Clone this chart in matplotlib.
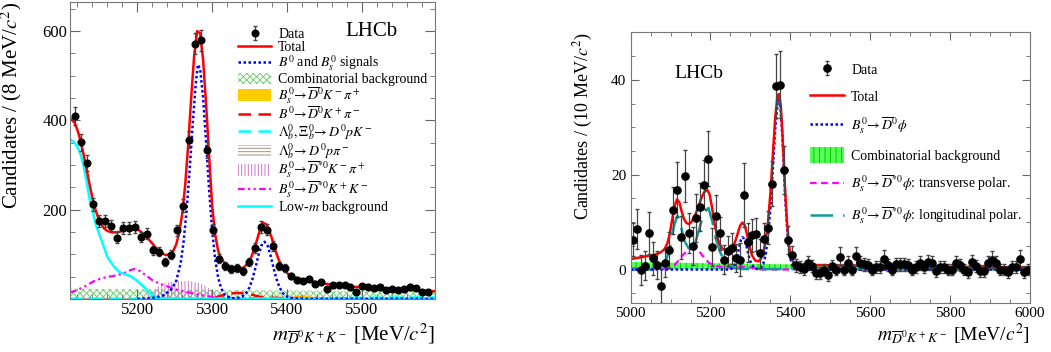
import matplotlib
matplotlib.use('Agg')
import matplotlib.pyplot as plt
from matplotlib.ticker import MultipleLocator, FuncFormatter
import numpy as np

plt.rcParams['font.family'] = ['Liberation Serif', 'DejaVu Serif']
plt.rcParams['mathtext.fontset'] = 'stix'
plt.rcParams['hatch.linewidth'] = 0.7

# ---------------- left panel: 8 MeV bins ----------------
mass_l = 5117 + 8 * np.arange(60)
counts_l = [410, 351, 304, 212, 174, 174, 164, 137, 159, 159,
            161, 139, 146, 109, 106, 83, 99, 154, 209, 357,
            572, 579, 334, 155, 90, 73, 67, 69, 62, 82,
            114, 161, 155, 118, 73, 69, 51, 43, 41, 45,
            34, 37, 22, 30, 30, 31, 27, 16, 28, 27,
            24, 26, 20, 22, 20, 21, 27, 24, 16, 16]
err_l = np.sqrt(counts_l)  # poisson

tot_x = [5110, 5116, 5120, 5124, 5128, 5132, 5136, 5140, 5144, 5148, 5152, 5156, 5160, 5166,
         5172, 5178, 5184, 5190, 5196, 5202, 5208, 5214, 5220, 5226, 5232, 5238, 5244, 5248,
         5252, 5256, 5260, 5264, 5268, 5272, 5276, 5280, 5284, 5288, 5292, 5296, 5300, 5304,
         5308, 5312, 5318, 5324, 5330, 5336, 5342, 5348, 5352, 5356, 5360, 5364, 5368, 5372,
         5376, 5380, 5384, 5388, 5392, 5396, 5402, 5410, 5420, 5430, 5440, 5455, 5470, 5490,
         5510, 5530, 5550, 5575, 5600]
tot_y = [405, 395, 378, 355, 325, 292, 258, 226, 200, 180, 166, 157, 152, 149,
         149, 151, 155, 158, 158, 154, 146, 136, 124, 112, 103, 98, 100, 107,
         122, 148, 190, 255, 345, 450, 545, 600, 595, 535, 435, 320, 210, 145,
         108, 90, 78, 73, 70, 68, 70, 80, 92, 110, 132, 155, 170, 168,
         155, 135, 112, 92, 77, 65, 55, 48, 44, 41, 37, 33, 30, 27,
         25, 23, 21, 19, 17]

sig_x = [5200, 5215, 5225, 5235, 5245, 5252, 5258, 5262, 5266, 5270, 5274, 5278, 5281, 5284,
         5288, 5292, 5296, 5300, 5304, 5308, 5312, 5316, 5320, 5326, 5334, 5340, 5346, 5350,
         5354, 5358, 5362, 5366, 5370, 5374, 5378, 5382, 5386, 5390, 5394, 5398, 5404, 5412,
         5420, 5600]
sig_y = [0, 1, 3, 8, 20, 40, 80, 130, 200, 290, 390, 480, 525, 515,
         450, 350, 245, 155, 90, 48, 24, 11, 5, 1.5, 2, 5, 14, 26,
         45, 70, 98, 120, 128, 120, 98, 70, 45, 26, 14, 7, 2, 0.5,
         0, 0]

comb_x = [5110, 5200, 5300, 5400, 5500, 5600]
comb_y = [23, 21.5, 20, 18.7, 17.5, 16.3]

dkpi_x = [5396, 5404, 5412, 5420, 5428, 5436, 5444]
dkpi_y = [0, 3, 8, 10, 8, 3, 0]

b0_x = [5300, 5310, 5320, 5330, 5340, 5350, 5360, 5370, 5390, 5450, 5600]
b0_y = [0, 6, 11, 13, 13, 11, 6, 3, 2, 1.5, 1]

lbk_x = [5110, 5400, 5450, 5500, 5550, 5600]
lbk_y = [0, 0.5, 1.5, 2.5, 3, 3]

lbpi_x = [5110, 5150, 5200, 5250, 5300]
lbpi_y = [2, 2, 1.5, 1, 0]

dstkpi_x = [5205, 5212, 5220, 5228, 5236, 5244, 5256, 5268, 5280, 5290, 5300, 5308, 5316, 5324]
dstkpi_y = [0, 6, 18, 28, 35, 38, 40, 40, 37, 30, 20, 10, 3, 0]

dstkk_x = [5110, 5120, 5130, 5140, 5150, 5160, 5170, 5180, 5190, 5196, 5204, 5212, 5220, 5230,
           5240, 5250, 5260, 5270, 5280, 5290, 5300, 5320, 5340, 5360, 5600]
dstkk_y = [14, 20, 28, 38, 45, 49, 52, 56, 64, 67, 62, 52, 42, 34,
           28, 22, 17, 14, 10, 7, 4, 2, 1, 0.5, 0]

lowm_x = [5110, 5116, 5120, 5124, 5128, 5132, 5136, 5140, 5144, 5148, 5152, 5160, 5168, 5176,
          5184, 5192, 5200, 5208, 5216, 5224, 5232, 5240, 5600]
lowm_y = [358, 350, 340, 325, 300, 265, 225, 200, 170, 150, 132, 94, 74, 60,
          55, 50, 40, 28, 14, 4, 1, 0, 0]

# ---------------- right panel: 10 MeV bins ----------------
mass_r = 5005 + 10 * np.arange(100)
counts_r = [6.3, 8.6, -0.1, 0.8, 7.7, 2.4, 0.9, -3.4, 1.4, 4.1,
            12.5, 16.8, 6.8, 19.8, 7.7, 5.0, 10.9, 13.2, 17.9, 23.4,
            4.7, 11.2, 7.6, 2.1, 3.9, 4.5, 2.4, 2.1, 15.7, 5.7,
            7.2, 7.4, 3.4, 6.5, 8.8, 18.1, 38.7, 39.0, 21.0, 6.2,
            3.0, 0.9, 0.6, 0.1, 1.3, 0.7, -0.7, -0.7, 0.0, -1.2,
            0.7, 0.0, 2.7, 0.0, 1.3, 0.0, 2.8, 1.4, 1.1, 0.9,
            0.0, 0.6, 0.6, 2.3, 0.9, 0.0, 1.1, 1.1, 1.1, 0.9,
            0.0, 0.6, 1.4, 0.6, 1.5, 1.3, -0.3, 0.6, 0.6, 0.0,
            0.0, 1.3, 0.9, 0.0, -0.5, 1.5, 0.8, -0.3, -0.3, 1.3,
            2.1, 1.3, 0.0, 0.0, -0.5, 0.6, 0.6, 2.3, -0.5, 0.0]
err_r = [3.5, 4.2, 3.2, 3.0, 4.5, 3.5, 3.0, 3.6, 3.0, 3.8,
         5.0, 5.8, 4.5, 5.5, 4.3, 4.0, 5.0, 5.0, 5.2, 5.8,
         4.0, 4.5, 3.5, 3.0, 3.2, 3.3, 3.0, 3.5, 6.8, 4.2,
         3.5, 3.5, 3.0, 3.3, 3.5, 4.8, 6.8, 7.0, 5.0, 3.0,
         2.0, 1.4, 1.3, 1.2, 1.5, 1.3, 1.2, 1.2, 1.2, 1.2,
         1.3, 1.2, 2.0, 1.2, 1.5, 1.2, 2.0, 1.5, 1.4, 1.3,
         1.2, 1.3, 1.3, 1.9, 1.3, 1.2, 1.4, 1.4, 1.4, 1.3,
         1.2, 1.3, 1.5, 1.3, 1.5, 1.5, 1.2, 1.3, 1.3, 1.2,
         1.2, 1.5, 1.3, 1.2, 1.2, 1.5, 1.3, 1.2, 1.2, 1.5,
         1.8, 1.5, 1.2, 1.2, 1.2, 1.3, 1.3, 1.9, 1.2, 1.2]

rtot_x = [5000, 5020, 5040, 5060, 5075, 5085, 5092, 5098, 5104, 5110, 5116, 5122, 5128, 5134,
          5140, 5146, 5152, 5160, 5168, 5176, 5184, 5192, 5198, 5204, 5210, 5216, 5222, 5230,
          5240, 5250, 5258, 5266, 5274, 5280, 5286, 5292, 5298, 5304, 5312, 5320, 5326, 5332,
          5338, 5344, 5350, 5356, 5362, 5368, 5372, 5376, 5380, 5384, 5388, 5392, 5396, 5400,
          5406, 5414, 5430, 5500, 5600, 5700, 5800, 5900, 6000]
rtot_y = [2.2, 2.5, 2.8, 3.1, 3.6, 4.3, 5.5, 7.5, 10.5, 13.3, 14.8, 14.2, 12.2, 10.6,
          9.8, 9.6, 10.0, 11.2, 12.8, 14.8, 16.3, 16.8, 15.8, 13.0, 9.8, 7.2, 5.5, 4.4,
          4.0, 4.2, 5.0, 7.0, 9.2, 9.9, 9.3, 7.2, 4.8, 3.0, 1.9, 1.7, 2.2, 3.5,
          6.0, 10.0, 16.0, 24.0, 32.0, 36.8, 37.0, 34.5, 29.0, 22.0, 15.0, 9.5, 5.5, 3.2,
          1.8, 1.2, 1.0, 0.9, 0.8, 0.7, 0.6, 0.5, 0.45]

rsig_x = [5000, 5250, 5258, 5264, 5270, 5276, 5280, 5284, 5290, 5296, 5302, 5310, 5318, 5326,
          5332, 5338, 5344, 5350, 5356, 5362, 5368, 5372, 5376, 5380, 5384, 5388, 5392, 5396,
          5400, 5406, 5414, 5422, 6000]
rsig_y = [0, 0, 0.5, 1.8, 4.0, 6.2, 6.8, 6.5, 5.0, 2.8, 1.2, 0.3, 0.1, 0.4,
          1.2, 3.0, 7.0, 13.0, 21.0, 29.5, 35.0, 35.8, 33.5, 28.0, 21.0, 14.0, 8.5, 4.5,
          2.3, 0.8, 0.2, 0, 0]

rcomb_x = [5000, 5100, 5200, 5300, 5400, 5500, 5600, 5700, 5800, 5900, 6000]
rcomb_y = [1.6, 1.45, 1.32, 1.2, 1.08, 0.97, 0.87, 0.78, 0.7, 0.63, 0.57]

trans_x = [5000, 5060, 5090, 5100, 5110, 5120, 5130, 5140, 5150, 5158, 5165, 5175, 5185, 5195,
           5205, 5215, 5230, 5250, 5270, 5290, 5310, 5330, 6000]
trans_y = [0.2, 0.2, 0.1, 0.4, 0.9, 1.9, 3.0, 3.8, 4.3, 4.4, 4.2, 3.5, 2.4, 1.5,
           1.0, 0.7, 0.5, 0.4, 0.5, 0.6, 0.3, 0.0, 0.0]

long_x = [5000, 5060, 5070, 5080, 5090, 5100, 5108, 5117, 5125, 5135, 5145, 5155, 5165, 5175,
          5185, 5195, 5205, 5215, 5225, 5235, 5245, 5260, 5280, 6000]
long_y = [0, 0, 0.3, 1.0, 2.3, 5.0, 9.0, 11.3, 9.5, 6.0, 4.5, 4.5, 6.5, 9.5,
          12.0, 13.0, 10.0, 6.0, 3.5, 1.8, 0.8, 0.3, 0.1, 0]

fig = plt.figure(figsize=(10.51, 3.52), dpi=100)
ax1 = fig.add_axes([0.0666, 0.151, 0.3473, 0.843])
ax2 = fig.add_axes([0.600, 0.140, 0.380, 0.768])

# ---- left
h_comb = ax1.fill_between(comb_x, 0, comb_y, facecolor='none', edgecolor='#70d070',
                          hatch='xxxxx', linewidth=0)
h_dkpi = ax1.fill_between(dkpi_x, 0, dkpi_y, facecolor='#ffcc00', edgecolor='#ffcc00', linewidth=0)
h_lbpi = ax1.fill_between(lbpi_x, 0, lbpi_y, facecolor='none', edgecolor='#a89080',
                          hatch='-----', linewidth=0)
h_dstkpi = ax1.fill_between(dstkpi_x, 0, dstkpi_y, facecolor='none', edgecolor='#cc77cc',
                            hatch='|||||', linewidth=0)
h_b0, = ax1.plot(b0_x, b0_y, color='red', lw=1.8, ls=(0, (5, 3)))
h_lbk, = ax1.plot(lbk_x, lbk_y, color='cyan', lw=1.8, ls=(0, (5, 3)))
h_dstkk, = ax1.plot(dstkk_x, dstkk_y, color='magenta', lw=1.6, ls=(0, (3, 1.5, 1, 1.5, 1, 1.5)))
h_lowm, = ax1.plot(lowm_x, lowm_y, color='cyan', lw=1.8)
h_sig, = ax1.plot(sig_x, sig_y, color='blue', lw=1.8, ls=(0, (1, 1)))
h_tot, = ax1.plot(tot_x, tot_y, color='red', lw=1.8)
h_data = ax1.errorbar(mass_l, counts_l, yerr=err_l, fmt='o', color='black', ms=4.8,
                      ecolor='#444444', elinewidth=0.9, capsize=1.2)

ax1.set_xlim(5110, 5598)
ax1.set_ylim(0, 665)
ax1.xaxis.set_major_locator(MultipleLocator(100))
ax1.xaxis.set_minor_locator(MultipleLocator(20))
ax1.yaxis.set_major_locator(MultipleLocator(200))
ax1.yaxis.set_minor_locator(MultipleLocator(50))
ax1.yaxis.set_major_formatter(FuncFormatter(lambda v, p: '' if v == 0 else f'{v:.0f}'))
ax1.tick_params(which='both', direction='in', top=True, right=True, color='#666666',
                labelsize=12, pad=2)
ax1.tick_params(which='major', length=7)
ax1.tick_params(which='minor', length=3.5)
for s in ax1.spines.values():
    s.set_color('#777777')
ax1.set_ylabel(r'Candidates / (8 MeV/$c^2$)', fontsize=15, loc='top')
ax1.yaxis.set_label_coords(-0.125, 1.0)
ax1.set_xlabel(r'$m_{\overline{D}^0K^+K^-}$ [MeV/$c^2$]', fontsize=15, loc='right')
ax1.xaxis.set_label_coords(1.0, -0.075)

labels_l = ['Data', 'Total', r'$B^0$ and $B_s^0$ signals', 'Combinatorial background',
            r'$B_s^0\!\rightarrow\!\overline{D}^0K^-\pi^+$',
            r'$B^0\!\rightarrow\!\overline{D}^0K^+\pi^-$',
            r'$\Lambda_b^0, \Xi_b^0\!\rightarrow D^0pK^-$',
            r'$\Lambda_b^0\!\rightarrow D^0p\pi^-$',
            r'$B_s^0\!\rightarrow\!\overline{D}^{*0}K^-\pi^+$',
            r'$B_s^0\!\rightarrow\!\overline{D}^{*0}K^+K^-$',
            r'Low-$m$ background']
handles_l = [h_data, h_tot, h_sig, h_comb, h_dkpi, h_b0, h_lbk, h_lbpi, h_dstkpi, h_dstkk, h_lowm]
ax1.legend(handles_l, labels_l, loc='upper left', bbox_to_anchor=(0.441, 0.937), frameon=False,
           fontsize=10, borderpad=0, labelspacing=-0.04, handlelength=2.4, handletextpad=0.5,
           handleheight=0.9)
ax1.text(0.827, 0.9, 'LHCb', transform=ax1.transAxes, fontsize=15, ha='center', va='center')

# ---- right
h2_comb = ax2.fill_between(rcomb_x, 0, rcomb_y, facecolor='#55ff55', edgecolor='#00c800',
                           hatch='|||', linewidth=0)
h2_trans, = ax2.plot(trans_x, trans_y, color='magenta', lw=1.6, ls=(0, (3, 2)))
h2_long, = ax2.plot(long_x, long_y, color='#109c9c', lw=1.8, ls=(0, (9, 4)))
h2_sig, = ax2.plot(rsig_x, rsig_y, color='blue', lw=1.8, ls=(0, (1, 1)))
h2_tot, = ax2.plot(rtot_x, rtot_y, color='red', lw=1.8)
h2_data = ax2.errorbar(mass_r, counts_r, yerr=err_r, fmt='o', color='black', ms=5.2,
                       ecolor='#444444', elinewidth=0.9, capsize=1.2)

ax2.set_xlim(5000, 6000)
ax2.set_ylim(-7, 50)
ax2.xaxis.set_major_locator(MultipleLocator(200))
ax2.xaxis.set_minor_locator(MultipleLocator(50))
ax2.yaxis.set_major_locator(MultipleLocator(20))
ax2.yaxis.set_minor_locator(MultipleLocator(5))
ax2.tick_params(which='both', direction='in', top=True, right=True, color='#666666',
                labelsize=11, pad=3)
ax2.tick_params(which='major', length=6)
ax2.tick_params(which='minor', length=3)
for s in ax2.spines.values():
    s.set_color('#777777')
ax2.set_ylabel(r'Candidates / (10 MeV/$c^2$)', fontsize=13, loc='top')
ax2.yaxis.set_label_coords(-0.09, 1.0)
ax2.set_xlabel(r'$m_{\overline{D}^0K^+K^-}$ [MeV/$c^2$]', fontsize=14, loc='right')
ax2.xaxis.set_label_coords(1.0, -0.07)

labels_r = ['Data', 'Total', r'$B_s^0\!\rightarrow \overline{D}^0\phi$', 'Combinatorial background',
            r'$B_s^0\!\rightarrow \overline{D}^{*0}\phi$: transverse polar.',
            r'$B_s^0\!\rightarrow \overline{D}^{*0}\phi$: longitudinal polar.']
ax2.legend([h2_data, h2_tot, h2_sig, h2_comb, h2_trans, h2_long], labels_r, loc='upper left',
           bbox_to_anchor=(0.4325, 0.918), frameon=False, fontsize=10, borderpad=0,
           labelspacing=0.85, handlelength=2.4, handletextpad=0.55, handleheight=1.3)
ax2.text(0.171, 0.849, 'LHCb', transform=ax2.transAxes, fontsize=14, ha='center', va='center')

fig.savefig('out.png', dpi=100)
